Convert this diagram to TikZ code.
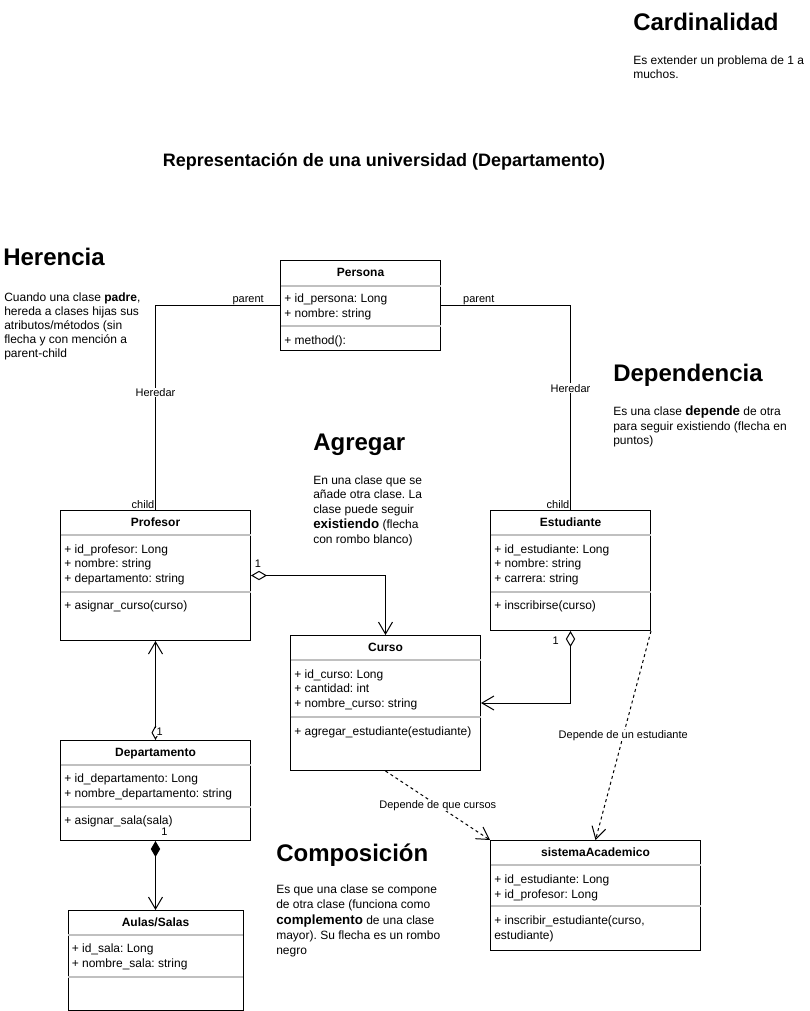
\documentclass[tikz,border=0pt]{standalone}
\usepackage{fontspec}
\setmainfont{Liberation Sans}
\usetikzlibrary{arrows.meta, positioning, calc}
\definecolor{sepgray}{HTML}{C0C0C0}
\newcommand{\kw}[1]{{\fontsize{10}{11}\selectfont\bfseries #1}}
\frenchspacing

\tikzset{
  classbox/.style 2 args={draw=black, line width=0.75pt, fill=white, anchor=north west,
    inner sep=0pt, minimum width=#1*0.75pt, minimum height=#2*0.75pt},
  classtitle/.style={font=\fontsize{9}{11}\selectfont\bfseries, anchor=base, inner sep=0pt},
  member/.style={font=\fontsize{9}{11}\selectfont, anchor=base west, inner sep=0pt},
  sepline/.style={draw=sepgray, line width=1.5pt},
  heading/.style={font=\fontsize{18}{22}\selectfont\bfseries, anchor=base west, inner sep=0pt},
  desc/.style={font=\fontsize{9}{11}\selectfont, anchor=base west, inner sep=0pt},
  lbl/.style={font=\fontsize{8.25}{10}\selectfont, inner sep=0.5pt},
  conn/.style={draw=black, line width=0.75pt},
  openhead/.tip={Straight Barb[length=9pt, width=10.5pt]},
  aggtail/.tip={Diamond[open, length=12pt, width=7pt]},
  comptail/.tip={Diamond[length=12pt, width=7pt]},
  smalltail/.tip={Diamond[open, length=11pt, width=6pt]},
  agg/.style={conn, aggtail-openhead},
  comp/.style={conn, comptail-openhead},
  depline/.style={conn, dash pattern=on 2.25pt off 2.25pt, -openhead}
}

\begin{document}
\begin{tikzpicture}[x=0.75pt, y=-0.75pt]

  %% Canvas
  \fill[white] (0,0) rectangle (810,1011);
  \useasboundingbox (0,0) rectangle (810,1011);

  %% Notes
  \node[heading] (hcard) at (633,30.5) {Cardinalidad};
  \node[font=\fontsize{13.5}{16}\selectfont\bfseries, anchor=base, inner sep=0pt] (title)
    at (384,166) {Representación de una universidad (Departamento)};
  \node[heading] (hher) at (3,265.5) {Herencia};
  \node[heading] (hdep) at (613,381) {Dependencia};
  \node[heading] (hagr) at (313,450) {Agregar};
  \node[heading] (hcomp) at (276,861) {Composición};

  \foreach \x/\y/\txt [count=\k] in {
    633/64/{Es extender un problema de 1 a},
    633/78/{muchos.},
    4/301/{Cuando una clase \textbf{padre},},
    4/315/{hereda a clases hijas sus},
    4/329.5/{atributos/métodos (sin},
    4/343.5/{flecha y con mención a},
    4/357/{parent-child},
    613/415/{Es una clase \kw{depende} de otra},
    613/430/{para seguir existiendo (flecha en},
    613/444/{puntos)},
    313/484/{En una clase que se},
    313/498/{añade otra clase. La},
    313/513/{clase puede seguir},
    313/528/{\kw{existiendo} (flecha},
    313/543/{con rombo blanco)},
    276/893/{Es que una clase se compone},
    276/908/{de otra clase (funciona como},
    276/924/{\kw{complemento} de una clase},
    276/939/{mayor). Su flecha es un rombo},
    276/954/{negro}
  }{
    \node[desc, name=d\k] at (\x,\y) {\txt};
  }

  %% Classes
  \node[classbox={160}{90}] (persona) at (280,260) {};
  \node[classbox={190}{130}] (profesor) at (60,510) {};
  \node[classbox={160}{120}] (estudiante) at (490,510) {};
  \node[classbox={190}{135}] (curso) at (290,635) {};
  \node[classbox={190}{100}] (departamento) at (60,740) {};
  \node[classbox={175}{100}] (aulas) at (67.5,910) {};
  \node[classbox={210}{110}] (sistema) at (490,840) {};

  \foreach \cls/\off in {persona/26, persona/66, profesor/25, profesor/82,
    curso/25, curso/82, estudiante/25, estudiante/82, departamento/25,
    departamento/67, aulas/25, aulas/67, sistema/25, sistema/66}{
    \draw[sepline] ($(\cls.north west)+(0.5,\off)$) -- ($(\cls.north east)+(-0.5,\off)$);
  }

  \foreach \cls/\txt in {persona/Persona, profesor/Profesor, estudiante/Estudiante,
    curso/Curso, departamento/Departamento, aulas/{Aulas/Salas}, sistema/sistemaAcademico}{
    \node[classtitle, name=t-\cls] at ($(\cls.north)+(0,16)$) {\txt};
  }

  \foreach \cls/\off/\txt [count=\k] in {
    persona/42/{+ id\_persona: Long},
    persona/57/{+ nombre: string},
    persona/84/{+ method():},
    profesor/43/{+ id\_profesor: Long},
    profesor/57.5/{+ nombre: string},
    profesor/72/{+ departamento: string},
    profesor/99/{+ asignar\_curso(curso)},
    estudiante/43/{+ id\_estudiante: Long},
    estudiante/57.5/{+ nombre: string},
    estudiante/72/{+ carrera: string},
    estudiante/99/{+ inscribirse(curso)},
    curso/43/{+ id\_curso: Long},
    curso/57/{+ cantidad: int},
    curso/72/{+ nombre\_curso: string},
    curso/100/{+ agregar\_estudiante(estudiante)},
    departamento/42/{+ id\_departamento: Long},
    departamento/57/{+ nombre\_departamento: string},
    departamento/84/{+ asignar\_sala(sala)},
    aulas/42/{+ id\_sala: Long},
    aulas/57/{+ nombre\_sala: string},
    sistema/43/{+ id\_estudiante: Long},
    sistema/58/{+ id\_profesor: Long},
    sistema/84/{+ inscribir\_estudiante(curso,},
    sistema/99/{estudiante)}
  }{
    \node[member, name=m\k] at ($(\cls.north west)+(4,\off)$) {\txt};
  }

  %% Herencia
  \draw[conn] (persona.west) -| (profesor.north)
    node[lbl, pos=0.128, above] {parent}
    node[lbl, pos=0.712, fill=white] {Heredar}
    node[lbl, pos=1, anchor=south east] {child};
  \draw[conn] (persona.east) -| (estudiante.north)
    node[lbl, pos=0.146, above] {parent}
    node[lbl, pos=0.702, fill=white] {Heredar}
    node[lbl, pos=1, anchor=south east] {child};

  %% Agregar
  \draw[agg] (profesor.east) -| (curso.north)
    node[lbl, pos=0, anchor=south west, xshift=2pt, yshift=5.5pt] {1};
  \draw[agg] (estudiante.south) |- (curso.east)
    node[lbl, pos=0, anchor=north east, xshift=-8pt, yshift=-3.2pt] {1};
  \draw[conn, smalltail-openhead] (departamento.north) -- (profesor.south)
    node[lbl, pos=0, anchor=south west, fill=white, yshift=2.6pt] {1};

  %% Composicion
  \draw[comp] (departamento.south) -- (aulas.north)
    node[lbl, pos=0, anchor=south west, xshift=3.6pt, yshift=3.2pt] {1};

  %% Dependencia
  \draw[depline] (curso.south) -- (sistema.north west)
    node[lbl, pos=0.5, fill=white] {Depende de que cursos};
  \draw[depline] (estudiante.south east) -- (sistema.north)
    node[lbl, pos=0.5, fill=white] {Depende de un estudiante};

\end{tikzpicture}
\end{document}
